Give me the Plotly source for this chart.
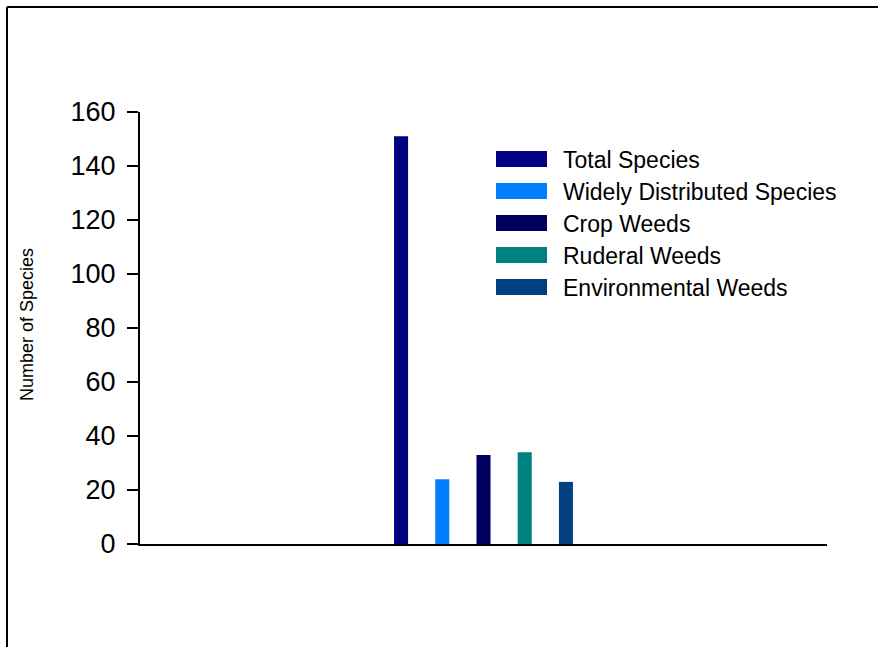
import plotly.graph_objects as go

# Species counts by group
series_names = [
    "Total Species",
    "Widely Distributed Species",
    "Crop Weeds",
    "Ruderal Weeds",
    "Environmental Weeds",
]
series_values = [151, 24, 33, 34, 23]
series_colors = ["#000080", "#0080FF", "#00005E", "#008080", "#004080"]
category = [""]

y_ticks = [0, 20, 40, 60, 80, 100, 120, 140, 160]

W, H = 878, 647
L, R, T, B = 140, 51, 112, 103
PW, PH = W - L - R, H - T - B


def px_x(x):
    return (x - L) / PW


def px_y(y):
    return (H - B - y) / PH


fig = go.Figure()
for name, val, col in zip(series_names, series_values, series_colors):
    fig.add_trace(go.Bar(
        x=category, y=[val], name=name,
        marker=dict(color=col, line=dict(width=0)),
        showlegend=False,
    ))

FONT = "Liberation Sans, Arial, sans-serif"

shapes = []
annotations = []

# outer frame (left and top edges)
shapes.append(dict(type="line", xref="paper", yref="paper",
                   x0=px_x(7), x1=px_x(7), y0=px_y(7), y1=px_y(700),
                   line=dict(color="black", width=2)))
shapes.append(dict(type="line", xref="paper", yref="paper",
                   x0=px_x(7), x1=px_x(900), y0=px_y(7), y1=px_y(7),
                   line=dict(color="black", width=2)))

# legend: wide swatches with labels
row0, step = 159, 32
for i, (name, col) in enumerate(zip(series_names, series_colors)):
    cy = row0 + i * step
    shapes.append(dict(type="rect", xref="paper", yref="paper",
                       x0=px_x(496), x1=px_x(547),
                       y0=px_y(cy + 8), y1=px_y(cy - 8),
                       fillcolor=col, line=dict(width=0)))
    annotations.append(dict(xref="paper", yref="paper",
                            x=px_x(561), y=px_y(cy + 1),
                            xanchor="left", yanchor="middle",
                            text=name, showarrow=False,
                            font=dict(family=FONT, size=23, color="black")))

# y-axis title
annotations.append(dict(xref="paper", yref="paper",
                        x=px_x(27), y=px_y(324),
                        xanchor="center", yanchor="middle",
                        text="Number of Species", textangle=-90,
                        showarrow=False,
                        font=dict(family=FONT, size=18, color="black")))

fig.update_layout(
    width=W, height=H,
    margin=dict(l=L, r=R, t=T, b=B, pad=0),
    paper_bgcolor="white", plot_bgcolor="white",
    barmode="group", bargap=0.7, bargroupgap=0.66,
    shapes=shapes, annotations=annotations,
    showlegend=False,
    font=dict(family=FONT, color="black"),
    xaxis=dict(showticklabels=False, ticks="", showgrid=False,
               zeroline=False, showline=True, linecolor="black",
               linewidth=2, fixedrange=True),
    yaxis=dict(range=[0, 160], tickvals=y_ticks, ticks="outside",
               ticklen=11, tickwidth=2, tickcolor="black",
               showgrid=False, zeroline=False, showline=True,
               linecolor="black", linewidth=2,
               tickfont=dict(family=FONT, size=27, color="black"),
               ticklabelstandoff=6, fixedrange=True),
)

fig.write_html("out.html")
